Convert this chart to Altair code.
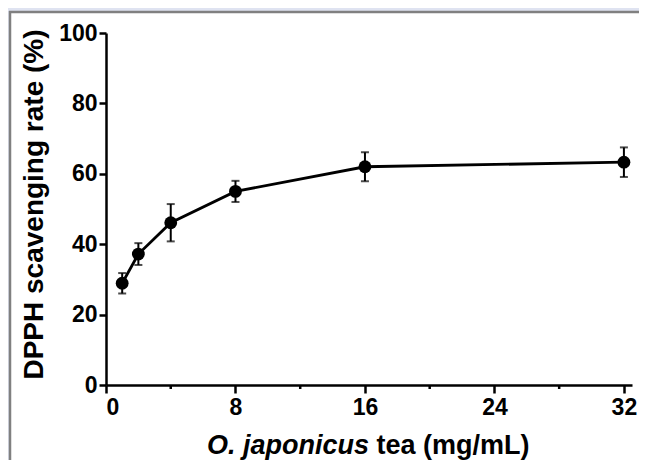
import altair as alt
import pandas as pd

# Data
conc = [1, 2, 4, 8, 16, 32]
rate = [28.9, 37.2, 46.1, 55.0, 62.0, 63.3]
sd = [2.9, 3.1, 5.3, 3.0, 4.1, 4.2]
x_major = [0, 8, 16, 24, 32]
x_minor = [4, 12, 20, 28]
y_ticks = [0, 20, 40, 60, 80, 100]

df = pd.DataFrame({"conc": conc, "rate": rate, "sd": sd})
df["lo"] = df["rate"] - df["sd"]
df["hi"] = df["rate"] + df["sd"]
minor_df = pd.DataFrame({"m": x_minor})

FONT = "Liberation Sans"
W, H = 526, 352
LAV = "#dfe3f1"

xscale = alt.Scale(domain=[0, 32.5], nice=False, zero=False)
yscale = alt.Scale(domain=[0, 100], nice=False)

xaxis = alt.Axis(values=x_major, title=None, labelFont=FONT, labelFontSize=23,
                 labelFontWeight="bold", labelColor="black", domainColor="black",
                 domainWidth=2.5, tickColor="black", tickWidth=2.5, tickSize=8,
                 labelPadding=3, grid=False, zindex=1, labelOverlap=False,
                 labelBound=False)
yaxis = alt.Axis(values=y_ticks, title="DPPH scavenging rate (%)", labelFont=FONT,
                 labelFontSize=23, labelFontWeight="bold", labelColor="black",
                 domainColor="black", domainWidth=2.5, tickColor="black",
                 tickWidth=2.5, tickSize=7, labelPadding=2, grid=False,
                 titleFont=FONT, titleFontSize=28, titleFontWeight="bold",
                 titleColor="black", titleX=-72, titleY=171, titleAngle=-90,
                 titleAlign="center", titleBaseline="middle", zindex=1)

one = alt.Data(values=[{"a": 1}])

band_t = alt.Chart(one).mark_rect(fill=LAV, strokeWidth=0).encode(
    x=alt.value(-98), x2=alt.value(533), y=alt.value(-25), y2=alt.value(-21)
)
band_l = alt.Chart(one).mark_rect(fill=LAV, strokeWidth=0).encode(
    x=alt.value(-98), x2=alt.value(-96), y=alt.value(-25), y2=alt.value(427)
)
border_l = alt.Chart(one).mark_rule(color="#808080", strokeWidth=2.5).encode(
    x=alt.value(-96), y=alt.value(-22), y2=alt.value(427)
)
border_t = alt.Chart(one).mark_rule(color="#808080", strokeWidth=2.5).encode(
    y=alt.value(-21), x=alt.value(-97), x2=alt.value(533)
)

base = alt.Chart(df)

line = base.mark_line(color="black", strokeWidth=2.8).encode(
    x=alt.X("conc:Q", scale=xscale, axis=xaxis),
    y=alt.Y("rate:Q", scale=yscale, axis=yaxis),
)
pts = base.mark_point(filled=True, color="black", size=165, opacity=1).encode(
    x="conc:Q", y="rate:Q"
)
bars = base.mark_rule(color="black", strokeWidth=2).encode(
    x="conc:Q", y="lo:Q", y2="hi:Q"
)
cap_lo = base.mark_tick(color="black", orient="horizontal", size=8, thickness=2).encode(
    x="conc:Q", y="lo:Q"
)
cap_hi = base.mark_tick(color="black", orient="horizontal", size=8, thickness=2).encode(
    x="conc:Q", y="hi:Q"
)
minor = alt.Chart(minor_df).mark_rule(color="black", strokeWidth=2.5).encode(
    x=alt.X("m:Q", scale=xscale), y=alt.value(H), y2=alt.value(H + 4)
)

t1 = alt.Chart(one).mark_text(text="O. japonicus", font=FONT, fontSize=27,
                              fontWeight="bold", fontStyle="italic", align="right",
                              baseline="alphabetic", color="black").encode(
    x=alt.value(263), y=alt.value(421)
)
t2 = alt.Chart(one).mark_text(text="tea (mg/mL)", font=FONT, fontSize=27,
                              fontWeight="bold", align="left",
                              baseline="alphabetic", color="black").encode(
    x=alt.value(270.5), y=alt.value(421)
)

chart = alt.layer(band_t, band_l, border_l, border_t, line, bars, cap_lo, cap_hi,
                  pts, minor, t1, t2).properties(
    width=W, height=H,
    autosize=alt.AutoSizeParams(type="none"),
    padding={"left": 98, "top": 25, "right": 7, "bottom": 75},
    background="white",
).configure_view(stroke=None)

chart.save("out.html", embed_options={"renderer": "svg", "actions": False})
